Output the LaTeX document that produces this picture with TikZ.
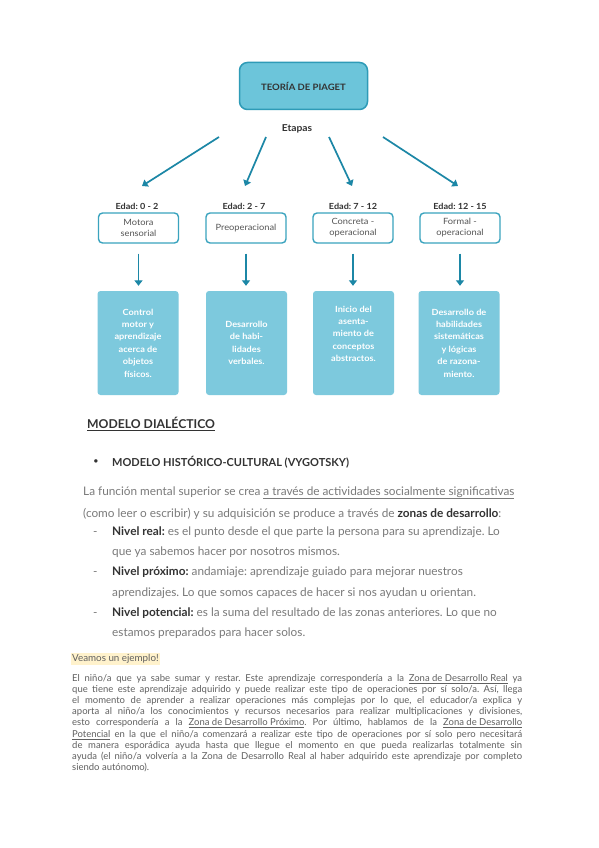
\documentclass[tikz,border=0pt]{standalone}
\usepackage{fontspec}
\setmainfont{Lato}
\newfontfamily\diagfont[FakeStretch=1.08]{Lato}
\usetikzlibrary{arrows.meta}
\frenchspacing
\definecolor{topfill}{HTML}{6CC5DA}
\definecolor{topdraw}{HTML}{2E9BB7}
\definecolor{teal1}{HTML}{3AA3BE}
\definecolor{arrteal}{HTML}{1C87A6}
\definecolor{boxblue}{HTML}{7DC9DD}
\definecolor{dark}{HTML}{333333}
\definecolor{txtgray}{HTML}{555555}
\definecolor{bodygray}{HTML}{7A7A7A}
\definecolor{pargray}{HTML}{606060}
\definecolor{hilite}{HTML}{FFF2CC}
\tikzset{
  topbox/.style={draw=topdraw, fill=topfill, line width=1.5pt, rounded corners=8pt,
    minimum width=128pt, minimum height=47pt, font=\diagfont\bfseries\fontsize{8.8}{10}\selectfont, text=dark},
  stagebox/.style={draw=teal1, fill=white, line width=1.4pt, rounded corners=4pt,
    minimum width=80pt, minimum height=30pt, align=center, inner sep=1pt,
    font=\diagfont\fontsize{8.6}{11}\selectfont, text=txtgray},
  infobox/.style={fill=boxblue, rounded corners=3pt, minimum width=81pt, minimum height=104pt,
    align=center, text=white, font=\diagfont\bfseries\fontsize{8.5}{12.4}\selectfont},
  agelabel/.style={font=\diagfont\bfseries\fontsize{8.4}{10}\selectfont, text=dark},
  arr/.style={draw=arrteal, line width=1.7pt, -{Triangle[length=5.5pt,width=8pt]}},
  bodyline/.style={anchor=west, inner sep=0pt, text height=9pt, text depth=3pt,
    text=bodygray, font=\fontsize{11.8}{13}\selectfont},
  parline/.style={anchor=west, inner sep=0pt, text height=7pt, text depth=2.2pt,
    text=pargray, font=\fontsize{9.5}{10}\selectfont},
}
\begin{document}
\begin{tikzpicture}[x=1pt,y=-1pt]
\useasboundingbox[fill=white] (0,0) rectangle (599,848);

% ---- Piaget diagram ----
\node[topbox] (top) at (303.5,86) {TEORÍA DE PIAGET};
\node[agelabel, font=\diagfont\bfseries\fontsize{9.5}{11}\selectfont] (etapas) at (297,129) {Etapas};

\node[agelabel] (age1) at (137,206) {Edad: 0 - 2};
\node[agelabel] (age2) at (244,206) {Edad: 2 - 7};
\node[agelabel] (age3) at (353,206) {Edad: 7 - 12};
\node[agelabel] (age4) at (460,206) {Edad: 12 - 15};

\node[stagebox] (st1) at (138.5,228) {Motora\\sensorial};
\node[stagebox] (st2) at (246,228) {Preoperacional};
\node[stagebox] (st3) at (353,228) {Concreta -\\operacional};
\node[stagebox] (st4) at (460,228) {Formal -\\operacional};

\node[infobox] (in1) at (138,343) {Control\\motor y\\aprendizaje\\acerca de\\objetos\\físicos.};
\node[infobox] (in2) at (246.5,343) {Desarrollo\\de habi-\\lidades\\verbales.};
\node[infobox] (in3) at (353.5,343) {Inicio del\\asenta-\\miento de\\conceptos\\abstractos.\\[6pt]};
\node[infobox] (in4) at (459,343) {Desarrollo de\\habilidades\\sistemáticas\\y lógicas\\de razona-\\miento.};

\coordinate (s1) at (219,137);
\coordinate (s2) at (266,137);
\coordinate (s3) at (329,137);
\coordinate (s4) at (383,137);
\coordinate (e1) at (142,186);
\coordinate (e2) at (245,186);
\coordinate (e3) at (352,186);
\coordinate (e4) at (458,186);
\draw[arr] (s1) -- (e1);
\draw[arr] (s2) -- (e2);
\draw[arr] (s3) -- (e3);
\draw[arr] (s4) -- (e4);

\foreach \i in {1,2,3,4}{
  \draw[arr, shorten <=10pt, shorten >=5pt] (st\i.south) -- (st\i.south |- in\i.north);
}

% ---- Text section ----
\node[anchor=west, inner sep=0pt, text=dark, font=\bfseries\fontsize{12.2}{14}\selectfont] (h1) at (87,424) {\underline{MODELO DIALÉCTICO}};
\node[inner sep=0pt, text=dark, font=\fontsize{7}{8}\selectfont] (b1) at (96,462) {●};
\node[anchor=west, inner sep=0pt, text=dark, font=\bfseries\fontsize{11}{12}\selectfont] (h2) at (112,462) {MODELO HISTÓRICO-CULTURAL (VYGOTSKY)};

\node[bodyline] (l1) at (83,492) {La función mental superior se crea \underline{a través de actividades socialmente significativas}};
\node[bodyline] (l2) at (83,514) {(como leer o escribir) y su adquisición se produce a través de \textcolor{dark}{\bfseries zonas de desarrollo}:};

\node[bodyline] (d1) at (93,532) {-};
\node[bodyline] (l3) at (112,532) {\textcolor{dark}{\bfseries Nivel real:} es el punto desde el que parte la persona para su aprendizaje. Lo};
\node[bodyline] (l4) at (112,552) {que ya sabemos hacer por nosotros mismos.};
\node[bodyline] (d2) at (93,572) {-};
\node[bodyline] (l5) at (112,572) {\textcolor{dark}{\bfseries Nivel próximo:} andamiaje: aprendizaje guiado para mejorar nuestros};
\node[bodyline] (l6) at (112,593) {aprendizajes. Lo que somos capaces de hacer si nos ayudan u orientan.};
\node[bodyline] (d3) at (93,613) {-};
\node[bodyline] (l7) at (112,613) {\textcolor{dark}{\bfseries Nivel potencial:} es la suma del resultado de las zonas anteriores. Lo que no};
\node[bodyline] (l8) at (112,633) {estamos preparados para hacer solos.};

\node[parline, fill=hilite, inner sep=1pt, font=\fontsize{9.8}{10}\selectfont] (ex) at (71,659) {Veamos un ejemplo!};

\node[parline] (p1) at (72,679) {\makebox[450pt][s]{El niño/a que ya sabe sumar y restar. Este aprendizaje correspondería a la \underline{Zona de Desarrollo Real} ya}};
\node[parline] (p2) at (72,690) {\makebox[450pt][s]{que tiene este aprendizaje adquirido y puede realizar este tipo de operaciones por sí solo/a. Así, llega}};
\node[parline] (p3) at (72,701) {\makebox[450pt][s]{el momento de aprender a realizar operaciones más complejas por lo que, el educador/a explica y}};
\node[parline] (p4) at (72,712) {\makebox[450pt][s]{aporta al niño/a los conocimientos y recursos necesarios para realizar multiplicaciones y divisiones,}};
\node[parline] (p5) at (72,723) {\makebox[450pt][s]{esto correspondería a la \underline{Zona de Desarrollo Próximo}. Por último, hablamos de la \underline{Zona de Desarrollo}}};
\node[parline] (p6) at (72,735) {\makebox[450pt][s]{\underline{Potencial} en la que el niño/a comenzará a realizar este tipo de operaciones por sí solo pero necesitará}};
\node[parline] (p7) at (72,746) {\makebox[450pt][s]{de manera esporádica ayuda hasta que llegue el momento en que pueda realizarlas totalmente sin}};
\node[parline] (p8) at (72,757) {\makebox[450pt][s]{ayuda (el niño/a volvería a la Zona de Desarrollo Real al haber adquirido este aprendizaje por completo}};
\node[parline] (p9) at (72,768) {siendo autónomo).};
\end{tikzpicture}
\end{document}
